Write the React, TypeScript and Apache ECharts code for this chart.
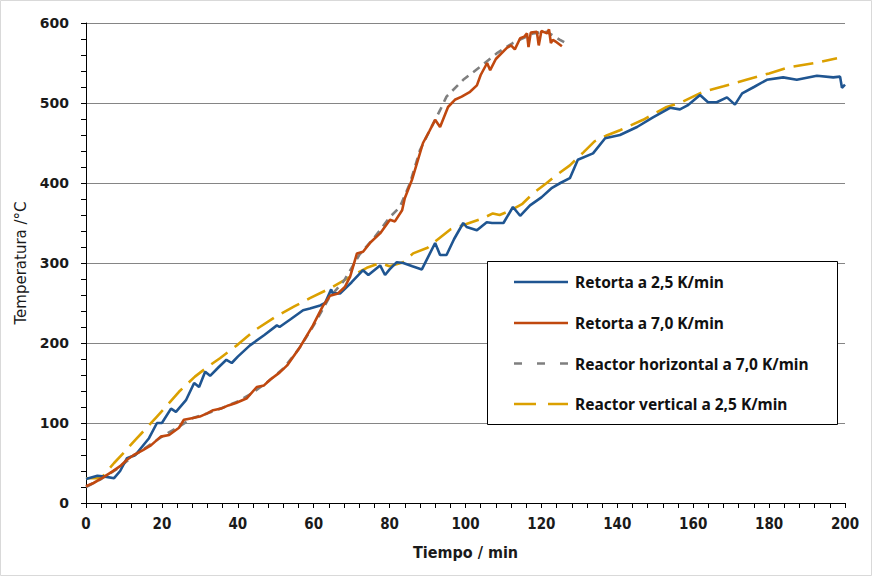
import React, { useEffect, useRef } from "react";
import * as echarts from "echarts";

const seriesNames = [
  "Retorta a 2,5 K/min",
  "Retorta a 7,0 K/min",
  "Reactor horizontal a 7,0 K/min",
  "Reactor vertical a 2,5 K/min",
];

const xTicks = [0, 20, 40, 60, 80, 100, 120, 140, 160, 180, 200];
const yTicks = [0, 100, 200, 300, 400, 500, 600];

// [tiempo (min), temperatura (°C)]
const retorta25: [number, number][] = [
  [0, 30], [3, 34], [5, 33], [7.4, 31], [9, 40], [10.8, 56], [13, 60], [16.6, 81], [18.7, 100], [20, 100],
  [22.4, 118], [23.7, 114], [26.4, 129], [28.5, 150], [29.8, 145], [31.4, 164], [32.7, 159], [35, 170],
  [37, 179], [38.4, 175], [40, 183], [43.2, 197], [47, 210], [50.3, 222], [51, 220], [54, 230], [57.2, 241],
  [59, 243], [61.7, 247], [63, 250], [64.6, 267], [65, 262], [67, 262], [70, 276], [73, 291], [74.4, 285],
  [77.5, 297], [78.8, 285], [80, 292], [81.9, 301], [83.6, 300], [86, 296], [88.5, 292], [92, 325],
  [93.3, 310], [95, 310], [97, 330], [99.4, 350], [100.3, 345], [103, 341], [105.6, 351], [107, 350],
  [110, 350], [112.5, 370], [114.4, 359], [117, 372], [120, 382], [122.8, 394], [125, 400], [127.5, 406],
  [129.6, 429], [133.6, 437], [136.8, 456], [140.7, 460], [145.2, 470], [149.4, 482], [153.9, 494],
  [156.5, 492], [158.5, 497], [161.8, 510], [163.9, 501], [166.2, 501], [168.9, 507], [171, 498],
  [172.9, 512], [176, 520], [179.4, 529], [183.7, 532], [187.3, 529], [192.6, 534], [196.9, 532],
  [198.7, 533], [199.2, 519], [200, 523],
];

const retorta70: [number, number][] = [
  [0, 21], [2, 25], [4.2, 31], [6.8, 39], [9, 46], [10.8, 54], [12.6, 60], [15, 66], [17.1, 72], [19.7, 83],
  [21.9, 85], [24.5, 94], [25.8, 104], [27.9, 106], [30, 108], [31.9, 112], [33.5, 116], [35.6, 118],
  [37.5, 122], [39.5, 125], [42.4, 131], [45, 145], [46.9, 147], [48.5, 154], [51, 163], [53, 172],
  [56.4, 195], [59.8, 222], [62.5, 247], [64.3, 259], [66.4, 262], [68.2, 270], [69.6, 283], [71.4, 312],
  [73, 314], [75, 326], [77.5, 337], [80.1, 354], [81.4, 352], [83.3, 366], [84, 381], [85.9, 404],
  [88.8, 450], [90.5, 465], [92, 479], [93.3, 470], [95.4, 495], [97.2, 504], [99, 508], [101.2, 514],
  [103, 522], [104, 535], [105.7, 550], [106.5, 541], [108, 555], [110.9, 569], [112, 572], [113, 567],
  [114.4, 581], [115.5, 583], [116.2, 587], [116.6, 570], [117.2, 588], [118.8, 589], [119.3, 572],
  [120, 590], [121.5, 587], [122, 592], [122.5, 575], [123, 579], [124, 576], [125.4, 571],
];

const reactorHorizontal70: [number, number][] = [
  [0, 20], [4, 30], [8, 42], [12, 57], [16, 70], [20, 83], [24, 94], [28, 106], [32, 112], [36, 119],
  [40, 127], [44, 138], [48, 152], [52, 168], [56, 192], [60, 222], [64, 256], [68, 278], [72, 310],
  [76, 332], [80, 357], [82.7, 370], [85.4, 400], [88, 441], [90.6, 466], [93.3, 491], [95, 508],
  [99.4, 529], [103.8, 545], [108.2, 562], [112.5, 575], [117.8, 587], [121.4, 589], [124.9, 579],
  [126, 576],
];

const reactorVertical25: [number, number][] = [
  [0, 31], [4, 31], [7.4, 50], [10, 63], [13, 79], [16, 94], [18.7, 108], [21, 120], [24.5, 139],
  [28.7, 158], [32, 170], [35.3, 181], [40, 198], [44.5, 216], [50, 233], [55, 246], [59, 256], [65, 270],
  [70.4, 285], [74, 294], [77.5, 300], [80, 296], [83.6, 301], [86.2, 312], [90, 319], [92, 327], [96, 342],
  [98, 345], [101, 350], [104.6, 356], [107.2, 362], [109, 360], [112, 366], [115, 374], [117.8, 387],
  [121.4, 400], [124, 410], [127.5, 422], [131, 438], [134, 452], [137, 459], [140.7, 466], [146.8, 479],
  [153, 495], [156.5, 500], [162.6, 514], [168, 521], [174, 529], [180, 537], [185.5, 545], [192, 550],
  [197.9, 556],
];

const colors = ["#1f5591", "#c0480f", "#7f7f7f", "#dba000"];
const legendDashes: (number[] | null)[] = [null, null, [8, 15], [22, 12]];

export default function App() {
  const ref = useRef<HTMLDivElement>(null);
  useEffect(() => {
    if (!ref.current) return;
    const chart = echarts.init(ref.current, undefined, { renderer: "svg" });
    const mk = (name: string, data: [number, number][], color: string, type: any, z: number) => ({
      name,
      type: "line",
      data,
      showSymbol: false,
      symbol: "none",
      smooth: false,
      z,
      lineStyle: { color, width: 2.6, type, cap: "butt" },
      itemStyle: { color },
    });

    const legendX = 514;
    const legendRows = [282, 323, 363.5, 404];
    const legendGraphics: any[] = [];
    seriesNames.forEach((n, i) => {
      legendGraphics.push({
        type: "line",
        z: 11,
        shape: { x1: legendX, y1: legendRows[i], x2: legendX + 54, y2: legendRows[i] },
        style: {
          stroke: colors[i],
          lineWidth: 2.6,
          lineDash: legendDashes[i] || undefined,
        },
      });
      legendGraphics.push({
        type: "text",
        z: 11,
        x: legendX + 61,
        y: legendRows[i],
        style: {
          text: n,
          fill: "#111111",
          font: "bold 15.5px 'Noto Sans'",
          verticalAlign: "middle",
          align: "left",
        },
      });
    });

    chart.setOption({
      animation: false,
      backgroundColor: "#ffffff",
      grid: { left: 86, right: 27, top: 23, bottom: 73 },
      xAxis: {
        type: "value",
        min: 0,
        max: 200,
        interval: 20,
        name: "Tiempo / min",
        nameLocation: "middle",
        nameGap: 41,
        nameTextStyle: { fontFamily: "DejaVu Sans Condensed, Liberation Sans Narrow, Noto Sans", fontWeight: "bold", fontSize: 16, color: "#1a1a1a" },
        axisLine: { show: true, lineStyle: { color: "#000000", width: 1 } },
        axisTick: { show: true, length: 5, lineStyle: { color: "#000000" } },
        minorTick: { show: true, splitNumber: 5, length: 5, lineStyle: { color: "#000000" } },
        splitLine: { show: false },
        axisLabel: {
          margin: 13,
          fontFamily: "DejaVu Sans Condensed, Liberation Sans Narrow, Noto Sans",
          fontWeight: "bold",
          fontSize: 15,
          color: "#1a1a1a",
          formatter: (v: number) => (xTicks.includes(v) ? String(v) : ""),
        },
      },
      yAxis: {
        type: "value",
        min: 0,
        max: 600,
        interval: 100,
        name: "Temperatura /°C",
        nameLocation: "middle",
        nameGap: 54,
        nameRotate: 90,
        nameTextStyle: { fontFamily: "DejaVu Sans", fontSize: 15, color: "#1a1a1a" },
        axisLine: { show: true, lineStyle: { color: "#000000", width: 1 } },
        axisTick: { show: true, length: 5, lineStyle: { color: "#000000" } },
        minorTick: { show: true, splitNumber: 5, length: 5, lineStyle: { color: "#000000" } },
        splitLine: { show: true, lineStyle: { color: "#858585", width: 1 } },
        axisLabel: {
          margin: 17,
          fontFamily: "DejaVu Sans",
          fontWeight: "bold",
          fontSize: 14,
          color: "#1a1a1a",
          formatter: (v: number) => (yTicks.includes(v) ? String(v) : ""),
        },
      },
      graphic: [
        {
          type: "rect",
          z: 10,
          shape: { x: 487.5, y: 261.5, width: 350, height: 163 },
          style: { fill: "#ffffff", stroke: "#000000", lineWidth: 1 },
        },
        {
          type: "rect",
          z: 0,
          silent: true,
          shape: { x: 0.5, y: 0.5, width: 871, height: 575 },
          style: { fill: "none", stroke: "#d9d9d9", lineWidth: 1 },
        },
        ...legendGraphics,
      ],
      series: [
        mk(seriesNames[3], reactorVertical25, colors[3], [20, 9], 3),
        mk(seriesNames[2], reactorHorizontal70, colors[2], [8, 6], 4),
        mk(seriesNames[0], retorta25, colors[0], "solid", 5),
        mk(seriesNames[1], retorta70, colors[1], "solid", 6),
      ],
    });
    return () => chart.dispose();
  }, []);
  return (
    <div
      ref={ref}
      style={{ position: "fixed", left: 0, top: 0, width: 872, height: 576 }}
    />
  );
}
